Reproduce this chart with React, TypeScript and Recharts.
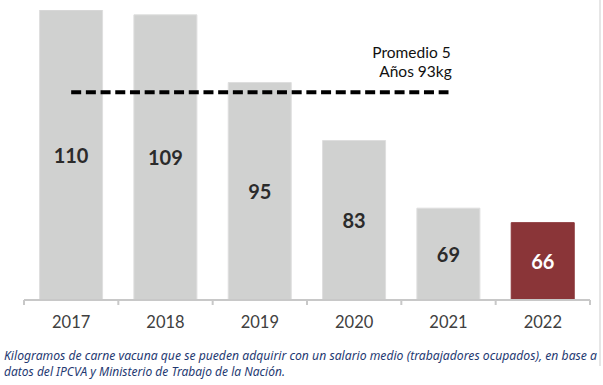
import { BarChart, Bar, XAxis, YAxis, Cell, LabelList, ReferenceLine } from 'recharts';

const years = ['2017', '2018', '2019', '2020', '2021', '2022'];
const kilos = [110, 109, 95, 83, 69, 66];
const promedio = 93;
const promedioDesde = '2017';
const promedioHasta = '2021';
const notaLineas = [
  'Kilogramos de carne vacuna que se pueden adquirir con un salario medio (trabajadores ocupados), en base a',
  'datos del IPCVA y Ministerio de Trabajo de la Nación.',
];

const data = years.map((year, i) => ({ year, kilos: kilos[i] }));

const GRIS = '#d0d1d0';
const BORDO = '#8a3538';
const FONT = 'Lato, "Open Sans", sans-serif';
const SQUEEZE = 0.85;

// tick con rayitas en los limites de cada categoria
const YearTick = (props: any) => {
  const { x, y, payload, index, visibleTicksCount } = props;
  const half = payload && payload.offset ? payload.offset : 47.2;
  const last = index === visibleTicksCount - 1;
  return (
    <g>
      <line x1={x - half} x2={x - half} y1={y} y2={y + 5} stroke="#c8c8c8" strokeWidth={2} />
      {last && <line x1={x + half} x2={x + half} y1={y} y2={y + 5} stroke="#c8c8c8" strokeWidth={2} />}
      <text x={x} y={y + 28} textAnchor="middle" fontFamily={FONT} fontSize={16.5} fill="#404040">
        {payload.value}
      </text>
    </g>
  );
};

const PromedioLabel = (props: any) => {
  const vb = props.viewBox || {};
  const cx = vb.x + vb.width - 33;
  return (
    <g fontFamily={FONT} fontSize={15.5} fill="#111" textAnchor="middle">
      <text x={cx - 4} y={vb.y - 34}>Promedio 5</text>
      <text x={cx} y={vb.y - 15}>Años {promedio}kg</text>
    </g>
  );
};

const App = () => {
  return (
    <div style={{ position: 'absolute', left: 0, top: 0, width: 603, height: 385, background: '#fff' }}>
      <BarChart
        width={603}
        height={345}
        data={data}
        margin={{ top: 10, right: 13, left: 24, bottom: 0 }}
        barCategoryGap="16.5%"
      >
        <XAxis
          dataKey="year"
          height={45}
          axisLine={{ stroke: '#c8c8c8', strokeWidth: 2 }}
          tickLine={false}
          tickSize={0}
          tickMargin={0}
          tick={<YearTick />}
          interval={0}
        />
        <YAxis hide domain={[50, 110]} allowDataOverflow />
        <Bar dataKey="kilos" isAnimationActive={false} strokeWidth={1}>
          {data.map((d, i) => (
            <Cell key={d.year} fill={i === data.length - 1 ? BORDO : GRIS} stroke={i === data.length - 1 ? BORDO : '#dedede'} />
          ))}
          <LabelList
            dataKey="kilos"
            position="center"
            content={(p: any) => (
              <text
                x={p.x + p.width / 2}
                y={p.y + p.height / 2 + 8}
                textAnchor="middle"
                fontFamily={FONT}
                fontWeight={700}
                fontSize={20}
                fill={p.index === data.length - 1 ? '#ffffff' : '#2b2b2b'}
              >
                {p.value}
              </text>
            )}
          />
        </Bar>
        <ReferenceLine
          segment={[
            { x: promedioDesde, y: promedio },
            { x: promedioHasta, y: promedio },
          ]}
          stroke="#000"
          strokeWidth={4}
          strokeDasharray="10 4.7"
          label={<PromedioLabel />}
        />
      </BarChart>
      <svg width={603} height={45} style={{ position: 'absolute', left: 0, top: 340 }}>
        <g transform={`translate(4,0) scale(${SQUEEZE},1)`} fontFamily='"Noto Sans", sans-serif' fontStyle="italic" fontSize={12.5} fill="#1f3a72">
          <text x={0} y={20} textLength={593 / SQUEEZE} lengthAdjust="spacingAndGlyphs">
            {notaLineas[0]}
          </text>
          <text x={0} y={36} textLength={281 / SQUEEZE} lengthAdjust="spacingAndGlyphs">
            {notaLineas[1]}
          </text>
        </g>
      </svg>
      <div style={{ position: 'absolute', left: 599, top: 0, width: 2, height: 366, background: '#e6e6e6' }} />
    </div>
  );
};

export default App;
